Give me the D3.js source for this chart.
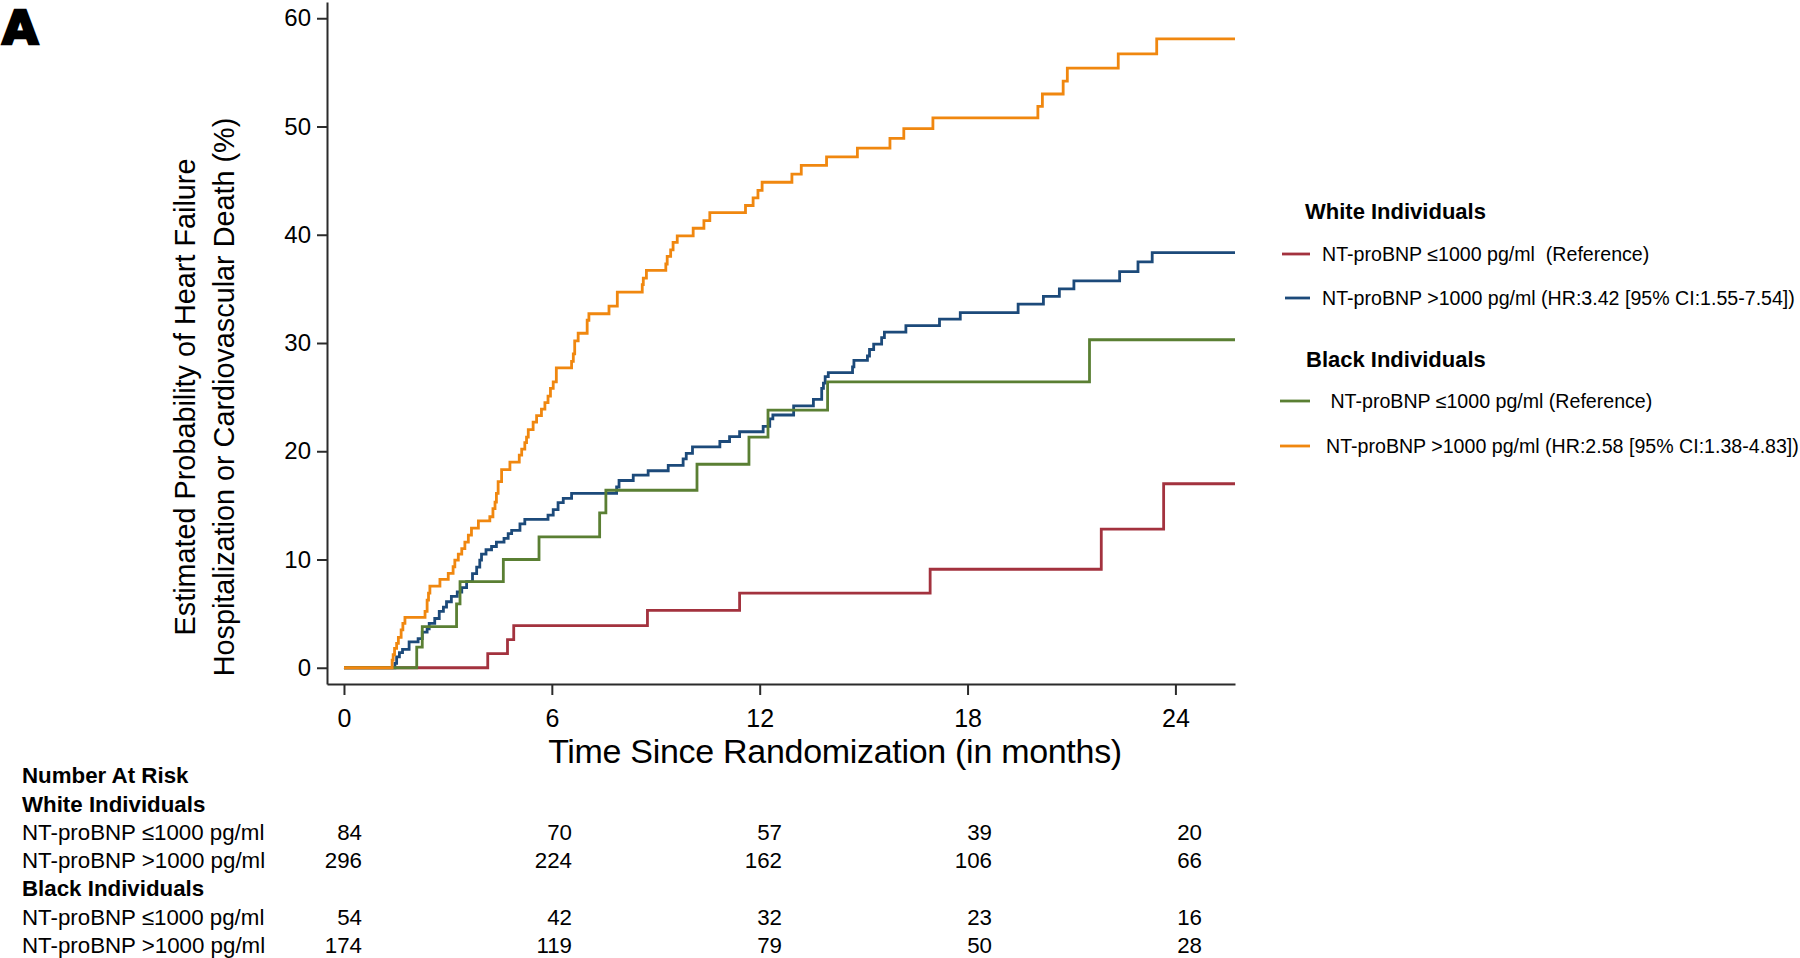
<!doctype html>
<html lang="en">
<head>
    <meta charset="utf-8">
    <title>KM curves - NT-proBNP by race</title>
    <script src="https://cdnjs.cloudflare.com/ajax/libs/d3/7.8.5/d3.min.js" type="text/JavaScript"></script>
    <style>
        body { margin: 0; background: #fff; }
        svg text { font-family: "Liberation Sans", Arial, sans-serif; fill: #000; }
    </style>
</head>
<body>
<script>

    // step times (months) and cumulative event probability (%)
    const redTime = [0, 4.15, 4.72, 4.9, 8.76, 11.42, 16.92, 21.86, 23.66];
    const redProb = [0, 1.3, 2.6, 3.9, 5.3, 6.9, 9.1, 12.8, 17.0];

    const blueTime = [0, 1.47, 1.52, 1.6, 1.69, 1.88, 2.14, 2.26, 2.4, 2.46, 2.62, 2.75, 2.87, 2.96, 3.1, 3.27, 3.4, 3.54,
        3.71, 3.83, 3.92, 3.97, 4.1, 4.26, 4.4, 4.62, 4.74, 4.84, 5.08, 5.22, 5.89, 6.04, 6.18, 6.33, 6.57, 7.87, 7.94,
        8.35, 8.78, 9.36, 9.79, 9.88, 10.06, 10.85, 11.13, 11.42, 12.1, 12.29, 12.38, 12.98, 13.55, 13.79, 13.84, 13.89,
        13.98, 14.68, 14.72, 15.11, 15.17, 15.29, 15.52, 15.6, 16.22, 17.19, 17.79, 19.46, 20.19, 20.65, 21.07, 22.39,
        22.92, 23.33];
    const blueProb = [0, 0.4, 1.0, 1.4, 1.7, 2.4, 2.7, 3.3, 3.6, 4.1, 4.55, 5.2, 5.6, 6.1, 6.6, 7.0, 7.4, 7.95,
        8.7, 9.3, 9.95, 10.5, 10.9, 11.2, 11.6, 11.95, 12.4, 12.7, 13.3, 13.7, 14.1, 14.6, 15.25, 15.65, 16.1, 16.7, 17.3,
        17.8, 18.2, 18.7, 19.3, 19.8, 20.4, 20.9, 21.35, 21.8, 22.3, 23.0, 23.35, 24.2, 24.8, 25.8, 26.3, 26.9,
        27.26, 27.8, 28.4, 28.8, 29.4, 29.9, 30.5, 31.0, 31.6, 32.2, 32.8, 33.6, 34.3, 35.0, 35.74, 36.6,
        37.5, 38.35];

    const greenTime = [0, 2.1, 2.26, 3.25, 3.35, 4.6, 5.63, 7.38, 7.56, 10.19, 11.69, 12.24, 13.96, 21.52];
    const greenProb = [0, 1.9, 3.8, 5.9, 7.95, 10.0, 12.1, 14.3, 16.4, 18.8, 21.3, 23.8, 26.4, 30.3];

    const orangeTime = [0, 1.39, 1.42, 1.46, 1.52, 1.57, 1.65, 1.7, 1.76, 2.34, 2.4, 2.44, 2.48, 2.77, 3.01, 3.15, 3.2,
        3.3, 3.4, 3.49, 3.59, 3.68, 3.88, 4.21, 4.3, 4.36, 4.4, 4.45, 4.55, 4.79, 5.06, 5.13, 5.22, 5.27, 5.32, 5.46,
        5.56, 5.7, 5.8, 5.89, 5.96, 6.04, 6.13, 6.57, 6.62, 6.66, 6.76, 7.02, 7.07, 7.65, 7.89, 8.61, 8.64, 8.73, 9.29,
        9.33, 9.43, 9.5, 9.62, 10.08, 10.39, 10.56, 11.59, 11.81, 11.95, 12.07, 12.93, 13.2, 13.93, 14.82, 15.76, 16.16,
        17.0, 20.03, 20.16, 20.76, 20.88, 22.35, 23.46];
    const orangeProb = [0, 0.7, 1.2, 1.8, 2.25, 2.8, 3.5, 4.1, 4.65, 5.2, 6.25, 6.9, 7.55, 8.16, 8.72, 9.33, 9.95,
        10.5, 11.0, 11.6, 12.26, 12.9, 13.56, 13.95, 14.7, 15.3, 16.1, 17.2, 18.3, 19.0, 19.65, 20.2, 20.8, 21.3, 22.0, 22.7,
        23.3, 23.9, 24.5, 25.1, 25.8, 26.4, 27.7, 28.3, 29.0, 30.2, 30.9, 32.1, 32.7, 33.4, 34.7, 35.4, 36.0, 36.7, 37.3,
        38.0, 38.6, 39.3, 39.9, 40.6, 41.3, 42.05, 42.7, 43.4, 44.1, 44.85, 45.6, 46.4, 47.2, 48.0, 48.9, 49.8,
        50.8, 51.85, 53.0, 54.2, 55.4, 56.7, 58.1];

    const followUp = 25.72;   // curves run to the end of the x axis

    const xTicks = [0, 6, 12, 18, 24];
    const yTicks = [0, 10, 20, 30, 40, 50, 60];

    // number at risk table
    const riskGroups = ["White Individuals", "Black Individuals"];
    const riskLabels = ["NT-proBNP \u22641000 pg/ml", "NT-proBNP >1000 pg/ml"];
    const riskWhiteLow = [84, 70, 57, 39, 20];
    const riskWhiteHigh = [296, 224, 162, 106, 66];
    const riskBlackLow = [54, 42, 32, 23, 16];
    const riskBlackHigh = [174, 119, 79, 50, 28];

    const legendWhite = ["NT-proBNP \u22641000 pg/ml  (Reference)", "NT-proBNP >1000 pg/ml (HR:3.42 [95% CI:1.55-7.54])"];
    const legendBlack = [" NT-proBNP \u22641000 pg/ml (Reference)", "NT-proBNP >1000 pg/ml (HR:2.58 [95% CI:1.38-4.83])"];

    const colors = {red: "#a3323e", blue: "#1c4a7a", green: "#5a7f33", orange: "#f0870f"};

    const width = 1800, height = 958;

    const x = d3.scaleLinear().domain([-0.49, followUp]).range([327, 1235]);
    const y = d3.scaleLinear().domain([-1.5, 61.5]).range([684, 2]);
    // right edges of the at-risk numbers
    const riskX = d3.scaleLinear().domain([0, 24]).range([362, 1202]);

    const svg = d3.select("body").append("svg")
        .attr("width", width)
        .attr("height", height);

    // panel letter
    svg.append("text")
        .attr("x", 2).attr("y", 44)
        .style("font-family", "'DejaVu Sans', sans-serif")
        .attr("font-size", 47).attr("font-weight", 900)
        .attr("stroke", "#000").attr("stroke-width", 2.5)
        .text("A");

    // axes
    const yAxis = svg.append("g")
        .attr("transform", `translate(${x.range()[0]},0)`)
        .call(d3.axisLeft(y).tickValues(yTicks).tickSize(10).tickSizeOuter(0).tickPadding(6));
    const xAxis = svg.append("g")
        .attr("transform", `translate(0,${y.range()[0]})`)
        .call(d3.axisBottom(x).tickValues(xTicks).tickSize(11).tickSizeOuter(0).tickPadding(14));

    [yAxis, xAxis].forEach(g => {
        g.selectAll("path, line").attr("stroke", "#2b2b2b").attr("stroke-width", 2);
        g.selectAll("text").attr("fill", "#000").style("font-family", "'Liberation Sans', Arial, sans-serif");
    });
    yAxis.selectAll("text").attr("font-size", 24);
    xAxis.selectAll("text").attr("font-size", 25);

    // axis titles
    const yTitle = svg.append("text")
        .attr("transform", "translate(195,397) rotate(-90)")
        .attr("text-anchor", "middle")
        .attr("font-size", 28.8);
    yTitle.append("tspan").attr("x", 0).attr("y", 0).text("Estimated Probability of Heart Failure");
    yTitle.append("tspan").attr("x", 0).attr("y", 39).text("Hospitalization or Cardiovascular Death (%)");

    svg.append("text")
        .attr("x", 835).attr("y", 763)
        .attr("text-anchor", "middle")
        .attr("font-size", 34)
        .attr("letter-spacing", -0.3)
        .text("Time Since Randomization (in months)");

    // curves
    const line = d3.line()
        .x(d => x(d[0]))
        .y(d => y(d[1]))
        .curve(d3.curveStepAfter);

    const curves = [
        {t: redTime, p: redProb, c: colors.red},
        {t: blueTime, p: blueProb, c: colors.blue},
        {t: greenTime, p: greenProb, c: colors.green},
        {t: orangeTime, p: orangeProb, c: colors.orange}
    ];

    curves.forEach(s => {
        const pts = s.t.map((t, i) => [t, s.p[i]]);
        pts.push([followUp, s.p[s.p.length - 1]]);
        svg.append("path")
            .datum(pts)
            .attr("fill", "none")
            .attr("stroke", s.c)
            .attr("stroke-width", 2.8)
            .attr("d", line);
    });

    // legend
    const legend = svg.append("g");
    legend.append("text").attr("x", 1305).attr("y", 219)
        .attr("font-size", 22).attr("font-weight", "bold").text("White Individuals");
    legend.append("text").attr("x", 1306).attr("y", 367)
        .attr("font-size", 22).attr("font-weight", "bold").text("Black Individuals");

    const legendItems = [
        {label: legendWhite[0], c: colors.red, y: 254, x0: 1282, tx: 1322},
        {label: legendWhite[1], c: colors.blue, y: 298, x0: 1285, tx: 1322},
        {label: legendBlack[0], c: colors.green, y: 401, x0: 1280, tx: 1325},
        {label: legendBlack[1], c: colors.orange, y: 446, x0: 1280, tx: 1326}
    ];
    legendItems.forEach(d => {
        legend.append("line")
            .attr("x1", d.x0).attr("x2", 1310)
            .attr("y1", d.y).attr("y2", d.y)
            .attr("stroke", d.c).attr("stroke-width", 2.8);
        legend.append("text")
            .attr("x", d.tx).attr("y", d.y + 7)
            .attr("font-size", 19.6)
            .style("white-space", "pre")
            .text(d.label);
    });

    // number at risk
    const risk = svg.append("g").attr("font-size", 22.3);
    risk.append("text").attr("x", 22).attr("y", 783).attr("font-weight", "bold").text("Number At Risk");

    const riskRows = [
        {head: riskGroups[0], y: 812, rows: [[riskLabels[0], riskWhiteLow, 840], [riskLabels[1], riskWhiteHigh, 868]]},
        {head: riskGroups[1], y: 896, rows: [[riskLabels[0], riskBlackLow, 925], [riskLabels[1], riskBlackHigh, 953]]}
    ];
    riskRows.forEach(g => {
        risk.append("text").attr("x", 22).attr("y", g.y).attr("font-weight", "bold").text(g.head);
        g.rows.forEach(r => {
            risk.append("text").attr("x", 22).attr("y", r[2]).text(r[0]);
            risk.selectAll(null)
                .data(r[1])
                .join("text")
                .attr("x", (d, i) => riskX(xTicks[i]))
                .attr("y", r[2])
                .attr("text-anchor", "end")
                .text(d => d);
        });
    });

</script>
</body>
</html>
